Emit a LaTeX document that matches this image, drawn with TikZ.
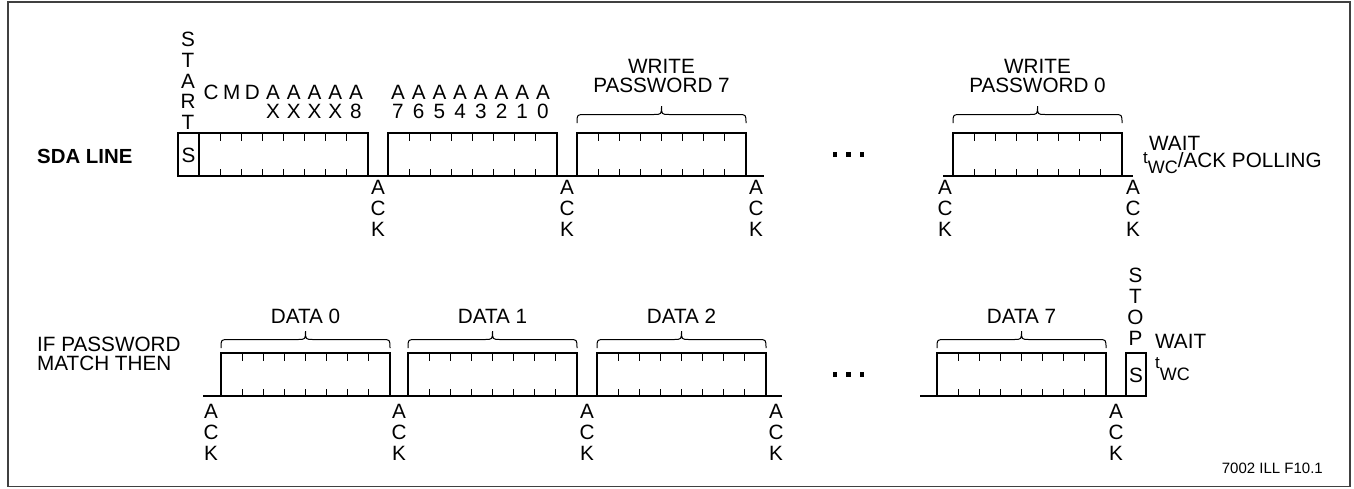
\documentclass[tikz,border=0pt]{standalone}
\usepackage{fontspec}
\setmainfont{Liberation Sans}
\newcommand\bytebox[2]{%
  \draw[boxline] (#1,#2+43) -- (#1,#2) -- (#1+169,#2) -- (#1+169,#2+43) -- cycle;
  \foreach \k in {1,...,7}{%
    \draw[tickmark] (#1+\k*21.125,#2) -- ++(0,7.5) (#1+\k*21.125,#2+43) -- ++(0,-7.5);}%
}
\newcommand\bytebrace[3]{%
  \draw[bracepath] (#1,#3) .. controls (#1,#3-8.5) .. (#1+8,#3-8.5)
    -- ({(#1+#2)/2-8},#3-8.5) .. controls ({(#1+#2)/2},#3-8.5) .. ({(#1+#2)/2},#3-17)
    .. controls ({(#1+#2)/2},#3-8.5) .. ({(#1+#2)/2+8},#3-8.5)
    -- (#2-8,#3-8.5) .. controls (#2,#3-8.5) .. (#2,#3);%
}
\begin{document}
\begin{tikzpicture}[x=1pt,y=-1pt,
  frame/.style={draw=black!75,line width=1.2pt},
  boxline/.style={line width=2.6pt,line join=miter},
  sig/.style={line width=1.8pt},
  tickmark/.style={line width=1.1pt},
  bracepath/.style={line width=1pt},
  lbl/.style={font=\fontsize{20.7}{20.6}\selectfont,inner sep=0pt},
  vert/.style={lbl,align=center,anchor=north},
  twoline/.style={font=\fontsize{20.7}{18.3}\selectfont,inner sep=0pt,align=center,anchor=north},
  dot/.style={fill=black}]
\useasboundingbox (0,0) rectangle (1354,488);
\draw[frame] (8,2) rectangle (1350,486.5);

% ---------- top row ----------
\node[lbl,font=\fontsize{20.4}{20}\selectfont\bfseries,anchor=base west] (sda) at (37,163) {SDA LINE};
\draw[boxline] (199,133) -- (178,133) -- (178,176) -- (199,176);
\bytebox{199}{133}
\bytebox{388}{133}
\bytebox{577}{133}
\bytebox{953}{133}
\draw[sig] (368,176) -- (388,176);
\draw[sig] (557,176) -- (577,176);
\draw[sig] (746,176) -- (764,176);
\draw[sig] (943,176) -- (953,176);
\draw[sig] (1122,176) -- (1133,176);
\node[lbl] (sS) at (188.5,155) {S};
\node[vert] (start) at (188,32.2) {S\\T\\A\\R\\T};
\foreach \ch [count=\i] in {C,M,D,A,A,A,A,A}
  \node[lbl,anchor=base] (ra\i) at ({211+(\i-1)*20.7},99.3) {\ch};
\foreach \ch [count=\i from 4] in {X,X,X,X,8}
  \node[lbl,anchor=base] (rx\i) at ({211+(\i-1)*20.7},118) {\ch};
\foreach \ch [count=\i] in {A,A,A,A,A,A,A,A}
  \node[lbl,anchor=base] (rb\i) at ({398+(\i-1)*20.7},99.3) {\ch};
\foreach \ch [count=\i] in {7,6,5,4,3,2,1,0}
  \node[lbl,anchor=base] (rn\i) at ({398+(\i-1)*20.7},118) {\ch};
\bytebrace{577}{746}{123}
\bytebrace{953}{1122}{123}
\node[twoline] (wp7) at (661.5,59.5) {WRITE\\PASSWORD 7};
\node[twoline] (wp0) at (1037.5,59.5) {WRITE\\PASSWORD 0};
\foreach \x [count=\i] in {378,567,756,945,1133}
  \node[vert] (ta\i) at (\x,180.5) {A\\C\\K};
\foreach \x [count=\i] in {835,848.5,862}
  \fill[dot] (\x-2.25,152.3) rectangle ++(4.5,4.5);
\node[lbl,anchor=base west] (wait1) at (1149,150) {WAIT};
\node[lbl,anchor=base west] (twc1) at (1143,167)
  {\raisebox{3.5pt}{\fontsize{17}{17}\selectfont t}\raisebox{-6pt}{\fontsize{18}{18}\selectfont WC}/ACK POLLING};

% ---------- bottom row ----------
\node[lbl,anchor=base west] (ifpw) at (37,351.5) {IF PASSWORD};
\node[lbl,anchor=base west] (match) at (37,370.5) {MATCH THEN};
\bytebox{221}{353}
\bytebox{408}{353}
\bytebox{597}{353}
\bytebox{937}{353}
\draw[sig] (203,396) -- (221,396);
\draw[sig] (390,396) -- (408,396);
\draw[sig] (577,396) -- (597,396);
\draw[sig] (766,396) -- (782,396);
\draw[sig] (920,396) -- (937,396);
\draw[sig] (1106,396) -- (1126,396);
\draw[boxline] (1126,353) rectangle (1146,396);
\node[lbl] (sP) at (1136,375) {S};
\node[vert,font=\fontsize{20.7}{21}\selectfont] (stop) at (1135.5,268) {S\\T\\O\\P};
\bytebrace{221}{390}{348}
\bytebrace{408}{577}{348}
\bytebrace{597}{766}{348}
\bytebrace{937}{1106}{348}
\node[lbl,anchor=base] (d0) at (305.5,323) {DATA 0};
\node[lbl,anchor=base] (d1) at (492.5,323) {DATA 1};
\node[lbl,anchor=base] (d2) at (681.5,323) {DATA 2};
\node[lbl,anchor=base] (d7) at (1021.5,323) {DATA 7};
\foreach \x [count=\i] in {211,399,587,776,1116}
  \node[vert] (ba\i) at (\x,404.5) {A\\C\\K};
\foreach \x [count=\i] in {835,848.5,862}
  \fill[dot] (\x-2.25,372.3) rectangle ++(4.5,4.5);
\node[lbl,anchor=base west] (wait2) at (1155,348) {WAIT};
\node[lbl,anchor=base west] (twc2) at (1155,372)
  {\raisebox{3.5pt}{\fontsize{17}{17}\selectfont t}\raisebox{-8pt}{\fontsize{18}{18}\selectfont WC}};

\node[font=\fontsize{15}{15}\selectfont,inner sep=0pt,anchor=base east] (fig) at (1323,473) {7002 ILL F10.1};
\end{tikzpicture}
\end{document}
